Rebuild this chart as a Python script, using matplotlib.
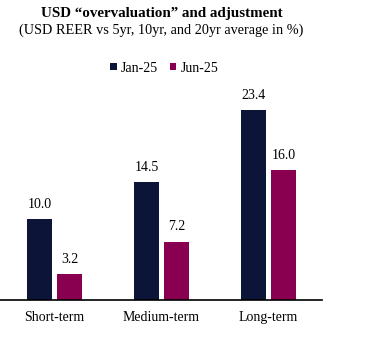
import numpy as np
import matplotlib.pyplot as plt

plt.rcParams['font.family'] = ['Liberation Serif', 'DejaVu Serif']

categories = ['Short-term', 'Medium-term', 'Long-term']
jan25 = [10.0, 14.5, 23.4]
jun25 = [3.2, 7.2, 16.0]
series_names = ['Jan-25', 'Jun-25']

fig = plt.figure(figsize=(3.65, 3.4), dpi=100)
ax = fig.add_axes([0.0, 0.1176, 322 / 365, 0.621])

x = np.arange(len(categories))
w = 0.234
b1 = ax.bar(x - 0.14, jan25, w, color='#0c1538', label=series_names[0])
b2 = ax.bar(x + 0.14, jun25, w, color='#8a0050', label=series_names[1])

for bars in (b1, b2):
    for r in bars:
        ax.text(r.get_x() + r.get_width() / 2, r.get_height() + 1.0,
                f'{r.get_height():.1f}', ha='center', va='bottom', fontsize=10)

ax.set_xlim(-0.509, 2.5)
ax.set_ylim(0, 26)
ax.set_xticks(x)
ax.set_xticklabels(categories, fontsize=10)
ax.tick_params(axis='x', length=0, pad=8)
ax.set_yticks([])
for s in ['top', 'right', 'left']:
    ax.spines[s].set_visible(False)
ax.spines['bottom'].set_linewidth(1.2)

fig.text(0.4425, 0.959, 'USD \u201covervaluation\u201d and adjustment', ha='center', va='center',
         fontsize=10.8, fontweight='bold')
fig.text(0.4425, 0.911, '(USD REER vs 5yr, 10yr, and 20yr average in %)', ha='center', va='center',
         fontsize=10.3)

fig.legend(loc='center', bbox_to_anchor=(0.45, 0.80), ncol=2, frameon=False, fontsize=10,
           handlelength=0.45, handleheight=0.45, handletextpad=0.3, columnspacing=0.85)

fig.savefig('out.png', dpi=100)
